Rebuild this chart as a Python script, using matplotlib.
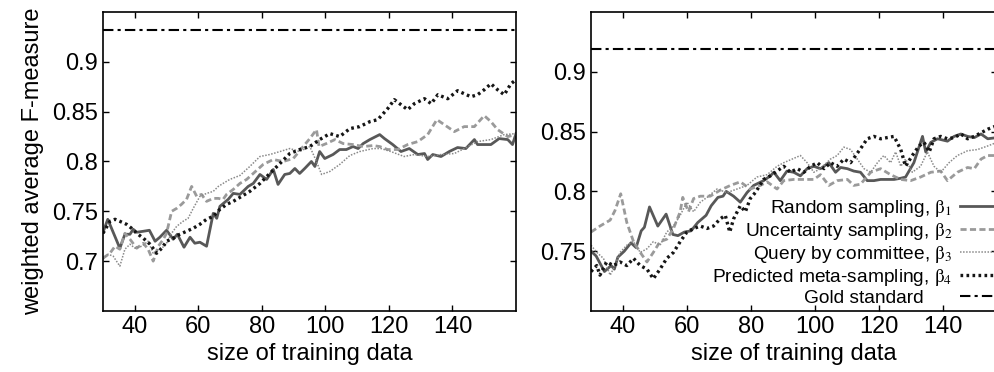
import numpy as np
import matplotlib
matplotlib.use('Agg')
import matplotlib.pyplot as plt

plt.rcParams['font.family'] = ['Liberation Sans', 'DejaVu Sans']
plt.rcParams['mathtext.fontset'] = 'stix'

# ---- left panel ----
l_rand_x = [30, 31.5, 35.3, 36.9, 38.5, 39.5, 40.6, 42.7, 44.6, 46.4, 47.9, 50, 52.1, 53.4, 55.5, 57.4,
            58.9, 60.5, 62.6, 64.7, 65.8, 66.8, 69.4, 71, 73.1, 75.7, 77.3, 79.4, 81.5, 83.6, 85.1, 87.2,
            88.8, 90.4, 91.9, 93.5, 95.6, 96.7, 98.2, 99.8, 102.4, 104.5, 106.6, 108.7, 110.3, 111.9, 114,
            117.1, 118.6, 121.2, 123.8, 126.4, 129.1, 131.2, 132.2, 133.8, 136.4, 139, 141.6, 144.2, 146.9,
            147.9, 152.1, 154.7, 157.4, 158.9, 160]
l_rand_y = [0.729, 0.742, 0.713, 0.727, 0.727, 0.732, 0.729, 0.730, 0.731, 0.720, 0.724, 0.731, 0.722, 0.727,
            0.714, 0.724, 0.718, 0.719, 0.715, 0.748, 0.743, 0.755, 0.762, 0.768, 0.767, 0.775, 0.778, 0.787,
            0.782, 0.792, 0.777, 0.787, 0.788, 0.793, 0.788, 0.793, 0.800, 0.795, 0.810, 0.803, 0.807, 0.812,
            0.812, 0.815, 0.813, 0.818, 0.822, 0.827, 0.823, 0.817, 0.810, 0.813, 0.807, 0.808, 0.802, 0.807,
            0.805, 0.810, 0.814, 0.813, 0.822, 0.817, 0.817, 0.823, 0.822, 0.817, 0.828]

l_unc_x = [30, 32.2, 33.8, 35.3, 36.9, 38.5, 40.6, 42.7, 44.2, 45.8, 47.4, 49, 50, 51.6, 53.2, 54.7, 56.3,
           57.9, 59.5, 61, 62.6, 64.7, 66.3, 67.8, 68.9, 71, 73.1, 75.2, 77.3, 80.4, 83.6, 86.7, 89.9, 93,
           95.1, 97.2, 98, 100.3, 103, 105.6, 108.7, 111.9, 115, 117.1, 119.6, 122.8, 125.9, 129.1, 132.2,
           135.1, 137.4, 140.6, 143.7, 146.9, 150, 152.1, 154.2, 157.4, 160]
l_unc_y = [0.703, 0.708, 0.715, 0.712, 0.728, 0.722, 0.713, 0.718, 0.712, 0.700, 0.715, 0.722, 0.728, 0.750,
           0.753, 0.757, 0.762, 0.775, 0.765, 0.767, 0.760, 0.763, 0.763, 0.762, 0.767, 0.772, 0.778, 0.782,
           0.788, 0.797, 0.802, 0.800, 0.803, 0.815, 0.823, 0.832, 0.815, 0.818, 0.822, 0.818, 0.817, 0.815,
           0.816, 0.815, 0.812, 0.812, 0.817, 0.820, 0.827, 0.842, 0.837, 0.830, 0.835, 0.835, 0.846, 0.840,
           0.832, 0.825, 0.827]

l_qbc_x = [30, 31.6, 33.2, 35.3, 36.9, 38.5, 40.1, 42.2, 44.2, 45.8, 47.4, 49.5, 51.6, 53.2, 55.2, 56.8,
           58.4, 60.5, 62.6, 64.7, 66.3, 67.8, 69.9, 73.1, 76.2, 79.4, 82.5, 85.7, 88.8, 91.9, 95.1, 97.2,
           98.8, 101.4, 104.5, 107.7, 110.8, 115, 117.5, 120.6, 124.8, 128, 132.2, 136.4, 140.6, 143.7,
           147.9, 152.1, 156.3, 160]
l_qbc_y = [0.702, 0.707, 0.705, 0.695, 0.712, 0.717, 0.713, 0.715, 0.720, 0.708, 0.712, 0.715, 0.728, 0.735,
           0.740, 0.743, 0.753, 0.765, 0.768, 0.770, 0.775, 0.778, 0.782, 0.786, 0.795, 0.805, 0.807, 0.810,
           0.813, 0.810, 0.815, 0.800, 0.787, 0.790, 0.797, 0.806, 0.810, 0.813, 0.813, 0.810, 0.805, 0.807,
           0.805, 0.807, 0.808, 0.813, 0.820, 0.822, 0.827, 0.828]

l_pms_x = [30, 32.2, 33.8, 35.3, 37.4, 39, 40.6, 42.7, 44.8, 46.9, 48.5, 50, 52.1, 54.2, 56.3, 58.4, 60.5,
           62.6, 64.7, 66.8, 68.9, 71, 73.1, 76.2, 79.4, 82.5, 85.7, 88.8, 91.9, 95.1, 98.2, 101.4, 104.5,
           107.7, 110.8, 114, 116.5, 119.6, 121.7, 123.8, 125.9, 128, 131.2, 133.3, 135.4, 138.5, 141.6,
           145.8, 147.9, 150, 152.1, 154.2, 156.3, 158.4, 160]
l_pms_y = [0.728, 0.740, 0.742, 0.740, 0.737, 0.733, 0.728, 0.723, 0.717, 0.708, 0.713, 0.720, 0.723, 0.727,
           0.730, 0.733, 0.737, 0.742, 0.745, 0.752, 0.757, 0.760, 0.764, 0.770, 0.778, 0.788, 0.798, 0.808,
           0.812, 0.815, 0.822, 0.828, 0.825, 0.833, 0.835, 0.840, 0.842, 0.853, 0.862, 0.857, 0.852, 0.858,
           0.863, 0.858, 0.867, 0.863, 0.871, 0.865, 0.867, 0.872, 0.878, 0.872, 0.867, 0.878, 0.882]

l_gold = 0.932

# ---- right panel ----
r_rand_x = [30, 31.6, 34.2, 36.3, 37.3, 38.4, 40.4, 42.5, 44.1, 45.7, 46.7, 48.3, 50.9, 53.5, 55.6, 57.2,
            59.2, 61.3, 63.4, 66, 67.6, 69.7, 71.3, 72.3, 74.6, 76.7, 78.8, 80.9, 84, 86.1, 87.2, 89.2,
            91.3, 93.4, 95.5, 97.6, 99.7, 101.8, 104.4, 106.5, 108.1, 110.2, 112.2, 114.3, 116.4, 118.5,
            120.6, 122.7, 124.8, 126.9, 128.4, 131, 133.7, 134.7, 136.3, 138.4, 141.5, 143.6, 145.7, 147.8,
            149.9, 152, 154.1, 157]
r_rand_y = [0.750, 0.746, 0.733, 0.738, 0.735, 0.745, 0.750, 0.757, 0.753, 0.767, 0.770, 0.787, 0.771, 0.781,
            0.764, 0.763, 0.766, 0.767, 0.774, 0.780, 0.788, 0.795, 0.796, 0.800, 0.796, 0.791, 0.799, 0.805,
            0.809, 0.813, 0.816, 0.809, 0.817, 0.816, 0.813, 0.819, 0.821, 0.819, 0.824, 0.816, 0.820, 0.819,
            0.817, 0.816, 0.809, 0.809, 0.810, 0.810, 0.810, 0.811, 0.812, 0.824, 0.846, 0.833, 0.841, 0.844,
            0.842, 0.846, 0.848, 0.846, 0.845, 0.848, 0.844, 0.845]

r_unc_x = [30, 32.8, 36, 37.5, 39.3, 41.2, 43.3, 45.4, 47.5, 49.5, 51.6, 53.7, 55.8, 57.9, 58.7, 60.5, 62.1,
           64.2, 67.3, 70.4, 73.6, 76.7, 79.8, 83, 85.1, 88.2, 90.3, 93.4, 96.6, 99.7, 101.8, 104.4, 107,
           110.2, 112.2, 114.3, 117.5, 120.6, 123.7, 126.9, 130, 133.1, 136.3, 139.4, 141.5, 144.6, 147.8,
           149.9, 152, 154.1, 157]
r_unc_y = [0.766, 0.771, 0.776, 0.784, 0.798, 0.774, 0.758, 0.749, 0.741, 0.749, 0.758, 0.760, 0.769, 0.783,
           0.795, 0.783, 0.794, 0.796, 0.796, 0.801, 0.805, 0.808, 0.802, 0.805, 0.808, 0.802, 0.809, 0.810,
           0.810, 0.810, 0.814, 0.805, 0.809, 0.810, 0.805, 0.806, 0.816, 0.819, 0.814, 0.810, 0.809, 0.812,
           0.816, 0.817, 0.809, 0.816, 0.820, 0.819, 0.827, 0.830, 0.830]

r_qbc_x = [30, 31.8, 33.9, 36, 37.5, 39.1, 41.2, 43.3, 45.4, 47.5, 49.5, 51.6, 53.7, 55.8, 57.9, 60, 62.1,
           64.2, 66.3, 69.4, 72.5, 75.7, 78.8, 81.9, 85.1, 88.2, 90.3, 92.9, 95.5, 97.6, 99.7, 101.8, 104.9,
           107, 109.1, 111.2, 113.3, 115.4, 117.5, 119.6, 121.6, 123.7, 125.3, 126.9, 128.4, 130.5, 133.1,
           135.2, 137.3, 139.4, 142, 144.6, 147.8, 150.9, 154.1, 157]
r_qbc_y = [0.755, 0.749, 0.744, 0.730, 0.738, 0.749, 0.755, 0.758, 0.749, 0.752, 0.758, 0.755, 0.766, 0.771,
           0.780, 0.791, 0.783, 0.791, 0.795, 0.802, 0.799, 0.802, 0.805, 0.812, 0.814, 0.821, 0.824, 0.827,
           0.830, 0.824, 0.816, 0.819, 0.827, 0.830, 0.837, 0.835, 0.827, 0.819, 0.816, 0.824, 0.830, 0.824,
           0.833, 0.821, 0.827, 0.816, 0.821, 0.833, 0.821, 0.816, 0.824, 0.830, 0.834, 0.835, 0.838, 0.841]

r_pms_x = [30, 31.8, 32.8, 34.9, 37, 39.1, 41.2, 43.3, 45.4, 47.5, 49.5, 51.6, 53.7, 55.8, 57.9, 60, 62.1,
           64.2, 66.3, 68.3, 70.4, 72, 73.4, 74.6, 76.7, 78.3, 79.8, 81.4, 84, 86.1, 88.2, 90.3, 92.4, 94.5,
           96.6, 98.7, 100.8, 102.9, 104.9, 107, 109.1, 111.2, 112.8, 114.9, 116.4, 118.5, 120.6, 122.7,
           124.8, 126.9, 128.4, 130.5, 132.6, 134.2, 135.8, 137.3, 139.4, 141.5, 143.6, 145.7, 147.8, 149.9,
           152, 154.1, 157]
r_pms_y = [0.733, 0.738, 0.730, 0.741, 0.738, 0.741, 0.738, 0.744, 0.738, 0.735, 0.727, 0.735, 0.744, 0.749,
           0.758, 0.766, 0.769, 0.771, 0.769, 0.771, 0.777, 0.780, 0.766, 0.777, 0.788, 0.783, 0.794, 0.799,
           0.810, 0.813, 0.817, 0.821, 0.816, 0.819, 0.816, 0.821, 0.824, 0.819, 0.824, 0.821, 0.827, 0.824,
           0.830, 0.838, 0.844, 0.846, 0.844, 0.845, 0.846, 0.835, 0.821, 0.830, 0.838, 0.841, 0.833, 0.844,
           0.846, 0.844, 0.845, 0.848, 0.844, 0.846, 0.849, 0.852, 0.855]

r_gold = 0.919

labels = ['Random sampling, $\\mathrm{\\beta}_1$', 'Uncertainty sampling, $\\mathrm{\\beta}_2$',
          'Query by committee, $\\mathrm{\\beta}_3$', 'Predicted meta-sampling, $\\mathrm{\\beta}_4$',
          'Gold standard']

styles = [dict(color='#585858', lw=2.0, ls='-'),
          dict(color='#9a9a9a', lw=2.0, ls=(0, (2.2, 1.2))),
          dict(color='#8a8a8a', lw=1.1, ls=(0, (1, 1))),
          dict(color='#151515', lw=2.4, ls=(0, (0.8, 1.0))),
          dict(color='black', lw=1.5, ls=(0, (5, 2, 1.5, 2)))]

fig = plt.figure(figsize=(9.94, 3.72), dpi=100)
ax1 = fig.add_axes([103 / 994, 1 - 311 / 372, 413 / 994, 299 / 372])
ax2 = fig.add_axes([591 / 994, 1 - 311 / 372, 406 / 994, 299 / 372])

panels = [
    (ax1, [(l_rand_x, l_rand_y), (l_unc_x, l_unc_y), (l_qbc_x, l_qbc_y), (l_pms_x, l_pms_y)], l_gold),
    (ax2, [(r_rand_x, r_rand_y), (r_unc_x, r_unc_y), (r_qbc_x, r_qbc_y), (r_pms_x, r_pms_y)], r_gold),
]

for ax, series, gold in panels:
    for (x, y), st, lab in zip(series, styles, labels):
        ax.plot(x, y, label=lab, **st)
    ax.axhline(gold, label=labels[4], **styles[4])
    ax.set_xticks([40, 60, 80, 100, 120, 140])
    ax.tick_params(direction='in', top=True, right=True, labelsize=17, length=4, width=1)
    ax.set_xlabel('size of training data', fontsize=17, labelpad=4)
    for s in ax.spines.values():
        s.set_linewidth(1.2)

ax1.set_xlim(30, 160)
ax1.set_ylim(0.65, 0.95)
ax1.set_yticks([0.7, 0.75, 0.8, 0.85, 0.9])
ax1.set_yticklabels(['0.7', '0.75', '0.8', '0.85', '0.9'])
ax1.set_ylabel('weighted average F-measure', fontsize=17, labelpad=6)

ax2.set_xlim(30, 157)
ax2.set_ylim(0.70, 0.95)
ax2.set_yticks([0.75, 0.8, 0.85, 0.9])
ax2.set_yticklabels(['0.75', '0.8', '0.85', '0.9'])

leg = ax2.legend(loc='lower right', bbox_to_anchor=(1.012, 0.175), bbox_transform=fig.transFigure,
                 markerfirst=False, frameon=False, fontsize=13.8, handlelength=2.4,
                 handletextpad=0.4, labelspacing=0.1, borderpad=0, borderaxespad=0)
# gold standard label sits a bit further left than the others
leg.get_texts()[4].set_x(-29)

fig.savefig('out.png', dpi=100)
